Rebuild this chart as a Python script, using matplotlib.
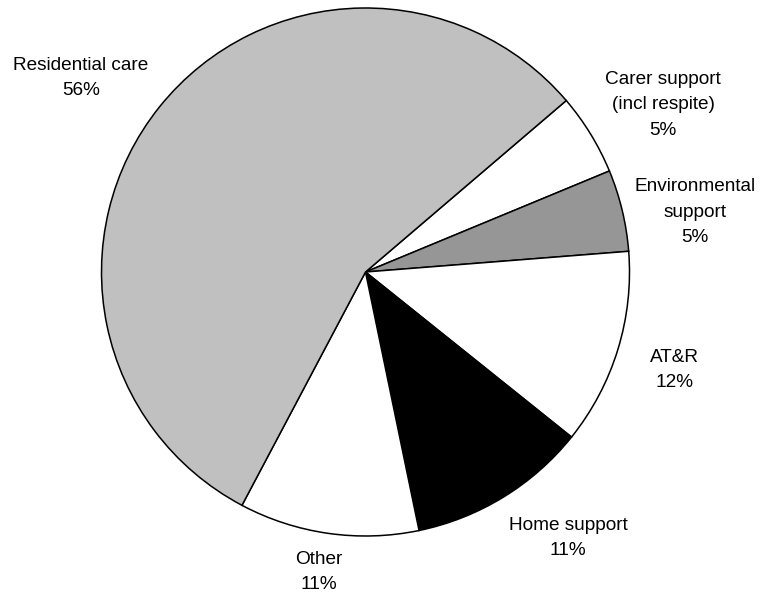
import matplotlib.pyplot as plt

plt.rcParams['font.family'] = ['Liberation Sans', 'DejaVu Sans']

# spending share by service type (%), clockwise from the top right
categories = ["Carer support\n(incl respite)", "Environmental\nsupport", "AT&R",
              "Home support", "Other", "Residential care"]
shares = [5, 5, 12, 11, 11, 56]
colors = ["white", "#969696", "white", "black", "white", "#C0C0C0"]

# label centres in pie-radius units
label_pos = [(1.127, 0.633), (1.248, 0.227), (1.169, -0.371),
             (0.767, -1.008), (-0.176, -1.136), (-1.078, 0.735)]

fig = plt.figure(figsize=(7.6, 5.93), dpi=100)
ax = fig.add_axes([0, 0, 1, 1])

ax.pie(shares, colors=colors, startangle=40.5, counterclock=False,
       radius=1.0, wedgeprops=dict(edgecolor="black", linewidth=1.1))

for name, val, (x, y) in zip(categories, shares, label_pos):
    ax.text(x, y, f"{name}\n{val}%", ha="center", va="center",
            fontsize=13.7, linespacing=1.65, color="black")

ax.set_xlim(-365.5 / 264, (760 - 365.5) / 264)
ax.set_ylim(-(593 - 272) / 264, 272 / 264)
ax.set_aspect("equal")
ax.axis("off")

fig.savefig("out.png", dpi=100)
